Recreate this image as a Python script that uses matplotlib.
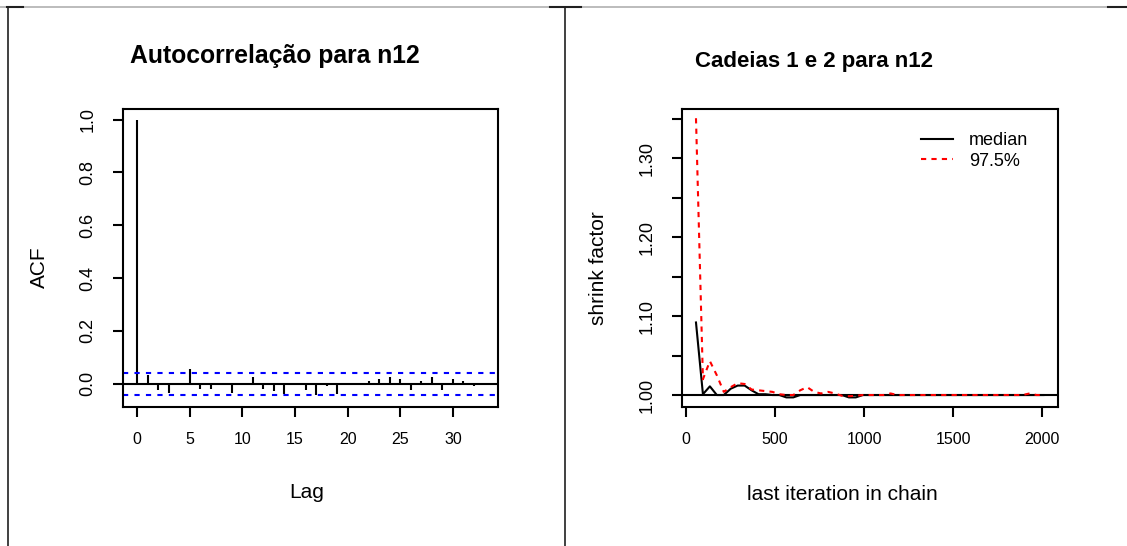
import matplotlib
matplotlib.use("Agg")
import matplotlib.pyplot as plt
from matplotlib.lines import Line2D
import numpy as np

plt.rcParams['font.family'] = ['Liberation Sans', 'DejaVu Sans']

# ---------------- data ----------------
lags = list(range(0, 34))
acf_vals = [1.000, 0.034, -0.025, -0.034, 0.004, 0.054, -0.019, -0.019,
            -0.003, -0.034, 0.003, 0.025, -0.019, -0.028, -0.040, 0.002,
            -0.025, -0.044, -0.010, -0.040, 0.003, -0.002, 0.010, 0.018,
            0.025, 0.018, -0.025, 0.010, 0.025, -0.025, 0.018, 0.010,
            -0.010, 0.003]
acf_ci = 0.042
acf_title = "Autocorrelação para n12"
acf_xticks = [0, 5, 10, 15, 20, 25, 30]
acf_yticks = [0.0, 0.2, 0.4, 0.6, 0.8, 1.0]
acf_yticklabels = ["0.0", "0.2", "0.4", "0.6", "0.8", "1.0"]

iters = [56, 95, 134, 173, 212, 251, 290, 329, 368, 407, 446, 485, 524,
         563, 602, 641, 680, 719, 758, 797, 836, 875, 914, 953, 992, 1031,
         1070, 1109, 1148, 1187, 1226, 1265, 1304, 1343, 1382, 1421, 1460,
         1499, 1538, 1577, 1616, 1655, 1694, 1733, 1772, 1811, 1850, 1889,
         1928, 1967, 2006]
median_sf = [1.092, 1.001, 1.011, 1.000, 1.000, 1.008, 1.012, 1.012, 1.006,
             1.001, 1.001, 1.000, 1.000, 0.997, 0.997, 1.000, 1.000, 1.000,
             1.000, 1.000, 1.000, 1.000, 0.997, 0.997, 1.000, 1.000, 1.000,
             1.000, 1.000, 1.000, 1.000, 1.000, 1.000, 1.000, 1.000, 1.000,
             1.000, 1.000, 1.000, 1.000, 1.000, 1.000, 1.000, 1.000, 1.000,
             1.000, 1.000, 1.000, 1.000, 1.000, 1.000]
upper_sf = [1.351, 1.020, 1.043, 1.025, 1.004, 1.010, 1.015, 1.014, 1.007,
            1.006, 1.005, 1.004, 1.001, 1.000, 1.000, 1.006, 1.010, 1.004,
            1.002, 1.004, 1.002, 0.999, 0.9985, 0.999, 1.000, 1.000, 1.000,
            1.000, 1.002, 1.000, 1.000, 1.000, 1.000, 1.000, 1.000, 1.000,
            1.000, 1.000, 1.000, 1.000, 1.000, 1.000, 1.000, 1.000, 1.000,
            1.000, 1.000, 1.000, 1.002, 1.000, 1.000]
gel_title = "Cadeias 1 e 2 para n12"
gel_xticks = [0, 500, 1000, 1500, 2000]
gel_yticks = [1.00, 1.05, 1.10, 1.15, 1.20, 1.25, 1.30, 1.35]
gel_yticklabels = ["1.00", "", "1.10", "", "1.20", "", "1.30", ""]
legend_labels = ["median", "97.5%"]

# ---------------- figure ----------------
W, H = 1127, 546
fig = plt.figure(figsize=(W / 100, H / 100), dpi=100)
fig.patch.set_facecolor("white")


def px_axes(l, t, r, b):
    return fig.add_axes([l / W, 1 - b / H, (r - l) / W, (b - t) / H])


def fx(x, ax):
    # figure pixel x -> axes fraction
    bb = ax.get_position()
    return (x / W - bb.x0) / bb.width


LW = 1.5
LABFS = 15


def style(ax):
    for s in ax.spines.values():
        s.set_linewidth(LW)
        s.set_color("black")
    ax.tick_params(direction="out", length=7.5, width=LW, colors="black")
    ax.tick_params(axis="x", pad=11, labelsize=11.5)
    ax.tick_params(axis="y", pad=12, labelsize=13)


# ---- ACF panel ----
ax1 = px_axes(123.3, 108.5, 498.3, 406.7)
ax1.vlines(lags, 0, acf_vals, color="black", lw=LW)
ax1.axhline(0, color="black", lw=LW)
ax1.axhline(acf_ci, color="blue", lw=LW, ls=(0, (2.5, 3)))
ax1.axhline(-acf_ci, color="blue", lw=LW, ls=(0, (2.5, 3)))
ax1.set_xlim(-1.32, 34.32)
ax1.set_ylim(-0.0868, 1.0418)
ax1.set_xticks(acf_xticks)
ax1.set_yticks(acf_yticks)
ax1.set_yticklabels(acf_yticklabels, rotation=90, va="center")
style(ax1)
ax1.set_xlabel("Lag", fontsize=LABFS)
ax1.set_ylabel("ACF", fontsize=LABFS)
ax1.xaxis.set_label_coords(fx(307, ax1), -(493 - 406.7) / (406.7 - 108.5))
ax1.yaxis.set_label_coords(fx(39, ax1), (406.7 - 267) / (406.7 - 108.5))
ax1.xaxis.label.set_va("center")
ax1.yaxis.label.set_va("center")
fig.text(275 / W, 1 - 55.5 / H, acf_title, fontsize=17.8, fontweight="bold",
         ha="center", va="center")

# ---- Gelman panel ----
ax2 = px_axes(682.3, 109, 1057.7, 406.7)
ax2.axhline(1.0, color="black", lw=LW)
l1, = ax2.plot(iters, median_sf, color="black", lw=LW, ls="-")
l2, = ax2.plot(iters, upper_sf, color="red", lw=LW, ls=(0, (2.5, 2.5)))
ax2.set_xlim(-20.8, 2086)
ax2.set_ylim(0.9852, 1.3627)
ax2.set_xticks(gel_xticks)
ax2.set_yticks(gel_yticks)
ax2.set_yticklabels(gel_yticklabels, rotation=90, va="center")
style(ax2)
ax2.set_xlabel("last iteration in chain", fontsize=LABFS)
ax2.set_ylabel("shrink factor", fontsize=LABFS)
ax2.xaxis.set_label_coords(fx(842, ax2), -(494 - 406.7) / (406.7 - 109))
ax2.yaxis.set_label_coords(fx(598, ax2), (406.7 - 268) / (406.7 - 109))
ax2.xaxis.label.set_va("center")
ax2.yaxis.label.set_va("center")
fig.text(814 / W, 1 - 61 / H, gel_title, fontsize=16, fontweight="bold",
         ha="center", va="center")
leg = ax2.legend([l1, l2], legend_labels, loc="upper left",
                 bbox_to_anchor=(921 / W, 1 - 132 / H),
                 bbox_transform=fig.transFigure, frameon=False,
                 fontsize=13, handlelength=1.75, handletextpad=0.9,
                 borderpad=0, borderaxespad=0, labelspacing=0.2)

# ---- page frame ----
frame = [
    ((0, W), (6.8, 6.8), "#b0b0b0", 1.2),
    ((7.5, 7.5), (7, H), "#202020", 1.2),
    ((7, 23), (7.3, 7.3), "#202020", 1.5),
    ((565, 565), (7, H), "#202020", 1.2),
    ((550, 581), (7.3, 7.3), "#202020", 1.5),
    ((1108, W), (7.3, 7.3), "#202020", 1.5),
]
for xs, ys, c, w in frame:
    fig.add_artist(Line2D([x / W for x in xs], [1 - y / H for y in ys],
                          color=c, lw=w, transform=fig.transFigure))

fig.savefig("out.png", dpi=100, facecolor="white")
